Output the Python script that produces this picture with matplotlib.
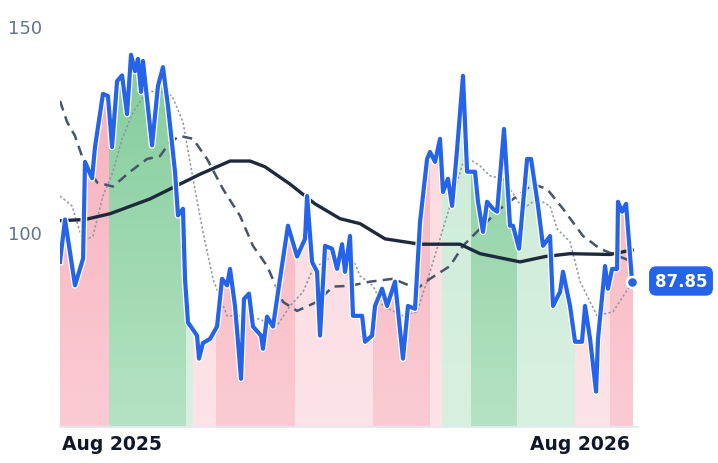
import numpy as np
import matplotlib
matplotlib.use("Agg")
import matplotlib.pyplot as plt
import matplotlib.patheffects as pe
from matplotlib.colors import to_rgb

price_days = [0,3.9,11.7,18,19.5,25,27.3,33.5,37.4,40.6,44.5,48.4,52.3,55.4,58.5,60.8,63.2,64.7,71.8,76.4,80.3,84.2,89.7,92,95.9,97.5,99.8,106.9,108.4,111.5,117,122.5,126.4,130.3,132.6,136.5,141.2,143.5,147.4,150.5,156.8,158.3,161.5,166.1,171.6,177.8,184.9,191.1,192.7,196.6,200.5,202.8,206.7,212.2,216.1,220,222.3,226.2,228.5,235.6,237.9,243.4,245.7,251.2,255.1,261.3,267.5,271.4,276.9,280.8,286.3,288.6,292.5,296.4,298.7,302.6,305.8,309.7,314.3,317.5,323.7,326,329.9,333.1,337.7,340.9,346.3,351,353.3,358,364.3,367.4,372.8,376.7,382.2,384.5,390,392.3,397.8,401.7,407.1,409.5,413.4,418.1,419.6,425.1,427.4,430.6,434.5,435.2,438.4,441.5,446.2]
price = [92.7,103,87,93.5,117,113,120.6,133.5,133,120.6,136.6,138,128.6,143,139,142,134,141.5,121,135.4,140,130.6,114.6,104,105.6,88.6,78,74.8,69.2,73,74,77,88.6,87,91,82,64.3,83.7,85,77,74.8,71.6,79.4,77,88.6,101.5,94,98.3,108.7,92.7,90.3,74.8,96.6,95.9,91,97,90.3,99,79.6,79.6,73.3,74.8,82,86.2,82,87.9,69.2,82,81.3,102.4,117.7,119.4,117,122.6,109.7,112.9,106.3,120,137.9,114.6,114.6,107.3,100,107.3,105.6,104.9,125,101.5,101.5,95.9,117.7,117.7,106.3,96.6,99,82,85.4,90.3,82,73.3,73.3,82,74,61.2,74,91.7,86.2,91,91,107.3,104.9,106.8,87.85]

long_days = [0,19.5,39,70.2,85.8,109.2,132.6,148.2,159.9,179.4,198.9,218.4,234,253.5,280.8,312,327.6,358.8,378.3,397.8,429,446.2]
long_ma = [102.7,103,104.4,108,110.4,114,117.2,117.2,115.8,111.6,106.8,103.2,102,98.3,97,97,94.7,92.7,94,94.7,94.5,95.6]

mid_days = [0,5.5,11.7,17.9,28.9,41.3,54.6,67.9,78,85.8,93.6,103.7,114.7,127.1,140.4,150.5,161.5,173.9,184.9,200.5,212.9,226.2,241.8,259.7,278.5,288.6,304.2,314.3,329.9,343.2,356.5,369,379.9,392.3,407.9,421.2,434.5,444.6]
mid_ma = [131.8,126.7,123.3,117.7,112,111,114.6,117.7,118.4,121.8,123.3,122.6,117.7,110.4,103.9,96.6,91.7,83,80.8,83,86.7,86.9,87.9,88.6,86.2,88.6,91.7,96.6,101.5,105.6,108.7,111.6,110.4,105.6,99,95.9,94.2,93]

short_days = [0,9.4,17.9,25.7,33.5,41.3,48.4,56.9,67.9,80.3,87.4,95.9,103.7,111.5,119.3,130.3,148.2,169.3,179.4,189.5,197.3,212.9,226.2,234,244.1,251.9,267.5,278.5,288.6,298.7,309.7,315.9,327.6,335.4,345.5,351,361.1,372,382.2,387.7,397.8,405.6,418.9,431.3,444.6]
short_ma = [108.7,106.3,97.6,99,108.7,114.6,122.6,129,134.2,133.9,133,126.7,112.9,100,88.6,79.6,79.6,77.2,82,85.4,91,94.2,95.1,89.3,86.9,82,79.6,80.6,90.3,100.7,112.1,118.4,116,113.6,112.9,110.4,105.6,108,106.3,100.7,97.6,87.9,79.6,80.6,86.9]

regime_edges = [0,38.2,98.3,103.7,121.7,183.3,244.1,288.6,298,320.6,356.5,401.7,429,447]
regime_kind = ["red","green","lgreen","lred","red","lred","red","lred","lgreen","green","lgreen","lred","red"]
tick_days = [40.6, 405.6]
tick_labels = ["Aug 2025", "Aug 2026"]
last_label = "87.85"

n = min(len(price_days), len(price))
price_days = np.array(price_days[:n]); price = np.array(price[:n])

colors = {"red": ("#f7aebb", "#fbcbd3"), "green": ("#7fcb98", "#b5e2c4"),
          "lgreen": ("#cbead6", "#d8f0e0"), "lred": ("#fcd8de", "#fde3e7")}

fig = plt.figure(figsize=(7.18, 4.64), dpi=100)
ax = fig.add_axes([60/718, 1-428/464, 578/718, 401/464])
ymin, ymax = 52.6, 150
ax.set_xlim(0, 450.8); ax.set_ylim(ymin, ymax)

grid = np.arange(0, 447, 1.0)
pint = np.interp(grid, price_days, price)
for i, k in enumerate(regime_kind):
    a, b = regime_edges[i], regime_edges[i+1]
    m = (grid >= a) & (grid <= b)
    xs = grid[m]; ys = pint[m]
    if len(xs) == 0:
        continue
    xs = np.concatenate([[a], xs, [b]]); ys = np.concatenate([[ys[0]], ys, [ys[-1]]])
    poly = ax.fill_between(xs, ymin, ys, step="mid", color="none", lw=0)
    top, bot = [np.array(to_rgb(c)) for c in colors[k]]
    g = np.linspace(0, 1, 100)[:, None]
    img = top[None, None, :] * (1 - g[..., None]) + bot[None, None, :] * g[..., None]
    im = ax.imshow(img, extent=[a, b, ymin, ymax], aspect="auto", origin="upper", zorder=1)
    path = poly.get_paths()[0]
    im.set_clip_path(path, transform=ax.transData)
    poly.remove()

ax.plot(short_days, short_ma, color="#8b95a5", lw=1.1, ls=(0, (1.5, 1.5)), zorder=3)
ax.plot(mid_days, mid_ma, color="#475569", lw=1.8, ls=(0, (4, 2.5)), zorder=3)
ax.plot(long_days, long_ma, color="#1e293b", lw=2.4, zorder=3)
ax.plot(price_days, price, color="#2563eb", lw=3.0, zorder=4, solid_joinstyle="round",
        path_effects=[pe.Stroke(linewidth=4.8, foreground="white"), pe.Normal()])
ax.plot([price_days[-1]], [price[-1]], "o", ms=8, color="#2563eb", mec="white", mew=1.8, zorder=5, clip_on=False)
ax.annotate(last_label, xy=(price_days[-1], price[-1]), xytext=(681, 464-282), textcoords="figure pixels",
            ha="center", va="center", color="white", fontsize=12, fontweight="bold", zorder=6,
            bbox=dict(boxstyle="round,pad=0.3,rounding_size=0.4", fc="#2563eb", ec="#2563eb"))

for s in ["top", "right", "left"]:
    ax.spines[s].set_visible(False)
ax.spines["bottom"].set_color("#e2e8f0"); ax.spines["bottom"].set_linewidth(1.2)
ax.set_yticks([100, 150]); ax.set_yticklabels(["100", "150"])
ax.tick_params(axis="y", length=0, pad=13, labelsize=13, labelcolor="#64748b")
ax.set_xticks(tick_days); ax.set_xticklabels(tick_labels)
ax.tick_params(axis="x", length=0, pad=5, labelsize=13.5, labelcolor="#0f172a")
for t in ax.get_xticklabels():
    t.set_fontweight("bold")
fig.savefig("out.png", dpi=100)
